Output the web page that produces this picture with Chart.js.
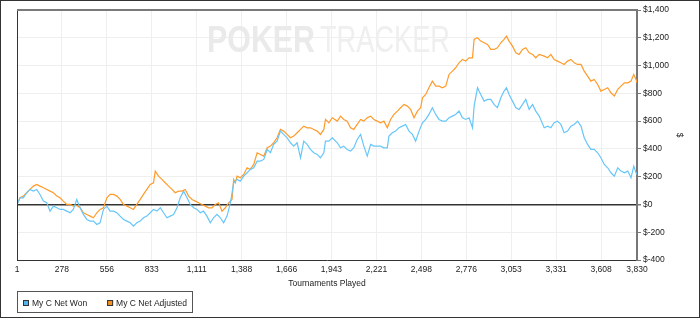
<!DOCTYPE html>
<html>
<head>
<meta charset="utf-8">
<script src="https://cdn.jsdelivr.net/npm/chart.js@4"></script>
<style>
html, body { margin: 0; padding: 0; background: #fff; }
</style>
</head>
<body>
<canvas id="myChart" width="700" height="318"></canvas>
<script>
// tick labels
var xTicks = [1, 278, 556, 833, 1111, 1388, 1666, 1943, 2221, 2498, 2776, 3053, 3331, 3608, 3830];

// My C Net Won
var wonX = [1,20,40,61,81,102,123,143,164,185,
    205,226,247,267,287,308,329,349,370,391,
    411,432,453,473,494,514,535,556,576,597,
    618,638,659,680,700,720,741,762,782,803,
    824,844,865,886,906,927,947,968,989,1009,
    1030,1051,1071,1092,1113,1133,1153,1174,1195,1215,
    1236,1257,1277,1298,1319,1339,1360,1380,1401,1422,
    1442,1463,1484,1504,1525,1546,1566,1586,1607,1628,
    1648,1669,1690,1710,1731,1752,1772,1793,1813,1834,
    1855,1875,1896,1906,1927,1948,1979,1999,2019,2040,
    2061,2081,2102,2123,2143,2164,2185,2205,2226,2246,
    2267,2288,2298,2319,2339,2360,2381,2401,2422,2443,
    2463,2484,2505,2525,2545,2566,2587,2607,2628,2649,
    2669,2690,2710,2731,2752,2772,2793,2814,2824,2845,
    2865,2886,2907,2927,2947,2968,2989,3009,3024,3040,
    3061,3082,3102,3123,3143,3164,3185,3205,3226,3257,
    3278,3298,3318,3339,3360,3380,3401,3422,3442,3463,
    3484,3504,3525,3545,3566,3587,3607,3628,3649,3669,
    3690,3711,3731,3752,3773,3793,3810,3824,3830];
var wonY = [0,48,48,84,108,96,108,72,24,12,
    -48,-12,-24,-36,-36,-48,-60,-36,36,-24,
    -72,-108,-120,-120,-144,-132,-36,-12,-48,-48,
    -60,-84,-108,-120,-132,-156,-132,-120,-96,-84,
    -60,-36,-48,-24,-60,-96,-84,-72,-24,48,
    96,48,0,-24,-36,-60,-48,-84,-132,-96,
    -72,-96,-132,-84,12,156,180,168,204,228,
    252,264,312,312,324,396,372,432,456,528,
    504,480,444,420,444,336,456,432,396,372,
    360,336,372,456,456,480,444,408,420,396,
    384,408,468,504,420,348,432,420,420,420,
    408,408,492,516,528,552,564,576,528,504,
    456,528,588,612,648,696,648,612,600,600,
    624,636,648,672,624,612,624,552,708,840,
    792,744,756,756,720,696,768,816,840,792,
    744,696,684,720,756,684,720,672,636,552,
    564,552,588,600,576,516,528,564,576,600,
    564,480,432,396,396,372,336,288,264,228,
    204,264,240,228,240,192,276,228,216];

// My C Net Adjusted
var adjX = [1,20,40,61,81,102,123,143,164,185,
    205,226,247,267,287,308,329,349,370,391,
    411,432,453,473,494,514,535,556,576,597,
    618,638,659,680,700,720,741,762,782,803,
    824,844,855,875,896,916,937,958,978,999,
    1020,1040,1061,1082,1102,1122,1143,1164,1184,1205,
    1226,1246,1267,1288,1308,1329,1339,1349,1360,1380,
    1401,1422,1442,1463,1484,1504,1525,1546,1566,1586,
    1607,1628,1648,1669,1690,1710,1731,1752,1772,1793,
    1813,1834,1855,1875,1896,1906,1927,1948,1979,1999,
    2019,2040,2061,2081,2102,2123,2143,2164,2185,2205,
    2226,2246,2267,2288,2308,2329,2350,2370,2391,2412,
    2432,2453,2474,2494,2505,2525,2545,2566,2587,2607,
    2628,2649,2669,2690,2710,2731,2752,2772,2793,2814,
    2824,2845,2865,2886,2907,2927,2947,2968,2989,3009,
    3024,3040,3061,3082,3102,3123,3143,3164,3185,3205,
    3226,3257,3278,3298,3318,3339,3360,3380,3401,3422,
    3442,3463,3484,3504,3525,3545,3566,3587,3607,3628,
    3649,3669,3690,3711,3731,3752,3773,3793,3810,3824,
    3830];
var adjY = [0,48,60,84,108,132,144,132,120,108,
    96,84,60,48,24,0,0,-12,-7,-24,
    -60,-72,-84,-96,-60,-36,-24,48,72,72,
    60,36,0,-12,-24,-36,0,36,72,108,
    144,156,240,204,180,156,132,108,84,96,
    96,108,60,36,24,12,0,-12,-24,-24,
    0,12,-48,-24,12,36,180,156,204,192,
    216,264,252,288,372,360,348,408,420,444,
    480,540,528,504,480,492,516,540,564,552,
    552,540,528,504,540,612,588,624,600,636,
    612,600,552,540,576,612,600,624,636,612,
    600,588,600,552,612,648,672,696,720,708,
    684,624,672,696,768,792,840,888,852,852,
    840,852,936,960,984,1020,1044,1032,1056,1056,
    1188,1200,1176,1164,1152,1116,1116,1128,1164,1188,
    1212,1176,1140,1092,1080,1116,1128,1092,1080,1056,
    1080,1068,1056,1080,1044,1032,1020,1008,1032,1044,
    1020,1008,1008,960,924,888,900,864,816,828,
    840,804,780,828,852,876,876,888,936,900,
    876];

var FONT = '"Liberation Sans", Arial, sans-serif';

function toPoints(xs, ys) {
    var pts = [];
    for (var i = 0; i < xs.length && i < ys.length; i++) {
        pts.push({ x: xs[i], y: ys[i] });
    }
    return pts;
}

// watermark behind the lines
var watermark = {
    id: 'watermark',
    beforeDatasetsDraw: function(chart) {
        var ctx = chart.ctx;
        ctx.save();
        ctx.textBaseline = 'alphabetic';
        ctx.textAlign = 'left';
        ctx.font = 'bold 37px ' + FONT;
        var w1 = ctx.measureText('POKER').width;
        ctx.fillStyle = '#eaeaea';
        ctx.save();
        ctx.translate(207, 52);
        ctx.scale(108 / w1, 1);
        ctx.fillText('POKER', 0, 0);
        ctx.restore();
        ctx.font = '37px ' + FONT;
        var w2 = ctx.measureText('TRACKER').width;
        ctx.fillStyle = '#efefef';
        ctx.translate(320, 52);
        ctx.scale(130 / w2, 1);
        ctx.fillText('TRACKER', 0, 0);
        ctx.restore();
    }
};

// frame, plot border and legend box
var frame = {
    id: 'frame',
    afterDraw: function(chart) {
        var ctx = chart.ctx;
        var a = chart.chartArea;
        ctx.save();
        // left border
        ctx.strokeStyle = '#333';
        ctx.lineWidth = 1;
        ctx.beginPath();
        ctx.moveTo(a.left + 0.5, a.top);
        ctx.lineTo(a.left + 0.5, a.bottom);
        ctx.stroke();
        // top border
        ctx.strokeStyle = '#7a7a7a';
        ctx.lineWidth = 2;
        ctx.beginPath();
        ctx.moveTo(a.left, a.top);
        ctx.lineTo(a.right, a.top);
        ctx.stroke();
        // outer border
        ctx.strokeStyle = '#333';
        ctx.lineWidth = 1;
        ctx.strokeRect(0.5, 0.5, chart.width - 1, chart.height - 1);

        // legend
        ctx.fillStyle = '#fff';
        ctx.fillRect(17.5, 291.5, 175, 21);
        ctx.strokeStyle = '#555';
        ctx.strokeRect(17.5, 291.5, 175, 21);
        ctx.font = '8.5px ' + FONT;
        ctx.textBaseline = 'middle';
        ctx.textAlign = 'left';
        var x = 23;
        chart.data.datasets.forEach(function(ds) {
            ctx.fillStyle = ds.legendColor;
            ctx.fillRect(x, 300, 6, 6);
            ctx.strokeStyle = '#333';
            ctx.strokeRect(x + 0.5, 300.5, 5, 5);
            ctx.fillStyle = '#222';
            ctx.fillText(ds.label, x + 9, 303.5);
            x += 9 + ctx.measureText(ds.label).width + 20;
        });
        ctx.restore();
    }
};

var canvas = document.getElementById('myChart');
var ctx = canvas.getContext('2d');

var myChart = new Chart(ctx, {
    type: 'line',
    data: {
        datasets: [{
            label: 'My C Net Won',
            data: toPoints(wonX, wonY),
            borderColor: '#66c6fa',
            legendColor: '#4fb3ee',
            borderWidth: 1.2,
            pointRadius: 0,
            tension: 0
        }, {
            label: 'My C Net Adjusted',
            data: toPoints(adjX, adjY),
            borderColor: '#ff9b2a',
            legendColor: '#f7901e',
            borderWidth: 1.2,
            pointRadius: 0,
            tension: 0
        }]
    },
    options: {
        responsive: false,
        animation: false,
        devicePixelRatio: 1,
        layout: {
            padding: { left: 17, top: 10, right: 0, bottom: 28 }
        },
        plugins: {
            legend: { display: false },
            tooltip: { enabled: false }
        },
        scales: {
            x: {
                type: 'linear',
                min: 1,
                max: 3830,
                afterBuildTicks: function(scale) {
                    scale.ticks = xTicks.map(function(v) { return { value: v }; });
                },
                afterFit: function(scale) {
                    scale.height = 30;
                },
                grid: {
                    color: '#efefef',
                    lineWidth: 1,
                    drawTicks: false
                },
                border: { color: '#333', width: 1 },
                ticks: {
                    autoSkip: false,
                    maxRotation: 0,
                    padding: 5,
                    color: '#222',
                    font: { family: FONT, size: 8.5 },
                    callback: function(v) { return Number(v).toLocaleString('en-US'); }
                },
                title: {
                    display: true,
                    text: 'Tournaments Played',
                    color: '#222',
                    font: { family: FONT, size: 8.5 },
                    padding: { top: 0, bottom: 1 }
                }
            },
            y: {
                position: 'right',
                min: -400,
                max: 1400,
                afterFit: function(scale) {
                    scale.width = 63;
                },
                grid: {
                    color: function(c) {
                        return c.tick && c.tick.value === 0 ? '#333' : '#efefef';
                    },
                    lineWidth: function(c) {
                        return c.tick && c.tick.value === 0 ? 1.5 : 1;
                    },
                    tickColor: '#777',
                    tickLength: 4
                },
                border: { color: '#777', width: 2 },
                ticks: {
                    stepSize: 200,
                    padding: 2,
                    color: '#222',
                    font: { family: FONT, size: 8.5 },
                    callback: function(v) { return '$' + Number(v).toLocaleString('en-US'); }
                },
                title: {
                    display: true,
                    text: '$',
                    color: '#222',
                    font: { family: FONT, size: 8.5 },
                    padding: 16
                }
            }
        }
    },
    plugins: [watermark, frame]
});
</script>
</body>
</html>
